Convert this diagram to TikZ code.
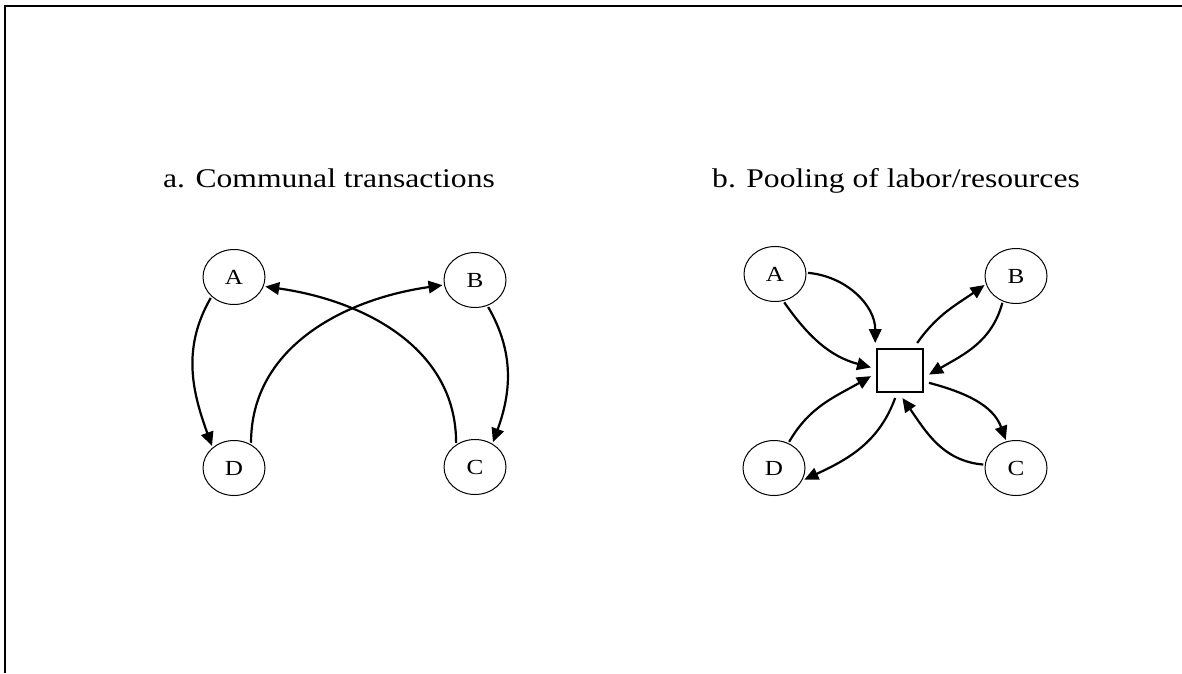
\documentclass[tikz,border=0pt]{standalone}
\usepackage{fontspec}
\usepackage{graphicx}
\setmainfont{Liberation Serif}
\usetikzlibrary{arrows.meta,shapes.geometric}
\newcommand{\wide}[1]{\scalebox{1.17}[1]{#1}}
\begin{document}
\begin{tikzpicture}[x=1pt,y=-1pt,
  agent/.style={ellipse,draw,line width=1pt,minimum width=62pt,minimum height=55pt,
    inner sep=0pt,outer sep=2pt,font=\fontsize{21.5}{25}\selectfont},
  pool/.style={rectangle,draw,line width=1.2pt,minimum width=46pt,minimum height=43pt,
    inner sep=0pt,outer sep=6pt},
  flow/.style={line width=2.2pt,-{Triangle[length=14pt,width=12.5pt]}},
  heading/.style={anchor=base,inner sep=0pt,font=\fontsize{27}{32}\selectfont},
  frame/.style={line width=1.8pt}]
\useasboundingbox (0,0) rectangle (1182,673);

% outer frame (top and left edges)
\coordinate (fbl) at (5,673);
\coordinate (ftl) at (5,6);
\coordinate (ftr) at (1182,6);
\draw[frame] (fbl) -- (ftl) -- (ftr);

% headings
\node[heading] (ta) at (329,187) {\wide{a. Communal transactions}};
\node[heading] (tb) at (896,187) {\wide{b. Pooling of labor/resources}};

% a. communal transactions
\node[agent] (aA) at (234,277) {\wide{A}};
\node[agent] (aB) at (475,280) {\wide{B}};
\node[agent] (aD) at (234,468) {\wide{D}};
\node[agent] (aC) at (475,467) {\wide{C}};

\draw[flow] (aA.222) to[out=240,in=110] (aD.135);
\draw[flow] (aD.56) to[out=90,in=188] (aB.189);
\draw[flow] (aC.128) to[out=90,in=-8] (aA.343);
\draw[flow] (aB.296) to[out=-60,in=70] (aC.54);

% b. pooling of labor/resources
\node[agent] (bA) at (775,274) {\wide{A}};
\node[agent] (bB) at (1016,276) {\wide{B}};
\node[agent] (bD) at (774,468) {\wide{D}};
\node[agent] (bC) at (1016,468) {\wide{C}};
\node[pool] (S) at (900,370.5) {};

\draw[flow] (bA.2) to[out=-5,in=90] (S.132);
\draw[flow] (bA.288) to[out=-55,in=165] (S.174);
\draw[flow] (S.58) to[out=55,in=215] (bB.196);
\draw[flow] (bB.243) to[out=-105,in=30] (S.352);
\draw[flow] (S.337) to[out=-15,in=110] (bC.110);
\draw[flow] (bC.174) to[out=175,in=-55] (S.275);
\draw[flow] (S.260) to[out=-110,in=25] (bD.339);
\draw[flow] (bD.60) to[out=60,in=210] (S.191);
\end{tikzpicture}
\end{document}
